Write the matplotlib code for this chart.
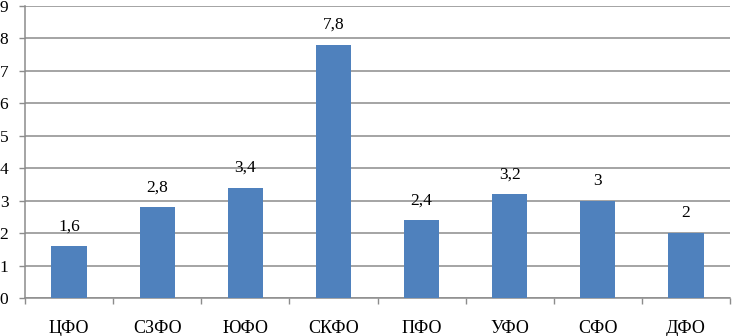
import matplotlib
matplotlib.use("Agg")
import matplotlib.pyplot as plt
import numpy as np

categories = ["ЦФО", "СЗФО", "ЮФО", "СКФО", "ПФО", "УФО", "СФО", "ДФО"]
values = [1.6, 2.8, 3.4, 7.8, 2.4, 3.2, 3.0, 2.0]
yticks = list(range(0, 10))

plt.rcParams['font.family'] = ['Liberation Serif', 'DejaVu Serif']

fig = plt.figure(figsize=(7.34, 3.36), dpi=100)
ax = fig.add_axes([25/734, 1-298/336, 705/734, 292/336])

x = np.arange(len(categories))
bars = ax.bar(x, values, width=0.4, color="#4F81BD", zorder=3)

ax.set_xlim(-0.5, len(categories) - 0.5)
ax.set_ylim(0, 9)
ax.set_yticks(yticks)
ax.set_yticklabels([str(t) for t in yticks], fontsize=12.5)
ax.yaxis.grid(True, color="#8c8c8c", linewidth=1.1, zorder=0)

ax.set_xticks(x)
ax.set_xticklabels(categories, fontsize=13)
ax.tick_params(axis='x', length=0, pad=15.5)
ax.set_xticks(np.arange(-0.5, len(categories) + 0.5, 1), minor=True)
ax.tick_params(axis='x', which='minor', length=4, color="#8c8c8c", width=1)
ax.tick_params(axis='y', length=4, color="#8c8c8c", width=1, pad=8)

for s in ["top", "right"]:
    ax.spines[s].set_visible(False)
for s in ["left", "bottom"]:
    ax.spines[s].set_color("#8c8c8c")
    ax.spines[s].set_linewidth(1.1)

for xi, v in zip(x, values):
    lbl = (f"{v:g}").replace(".", ",")
    ax.annotate(lbl, (xi, v), xytext=(0, 8.5), textcoords="offset points",
                ha="center", va="bottom", fontsize=12.5)

fig.savefig("out.png", dpi=100)
